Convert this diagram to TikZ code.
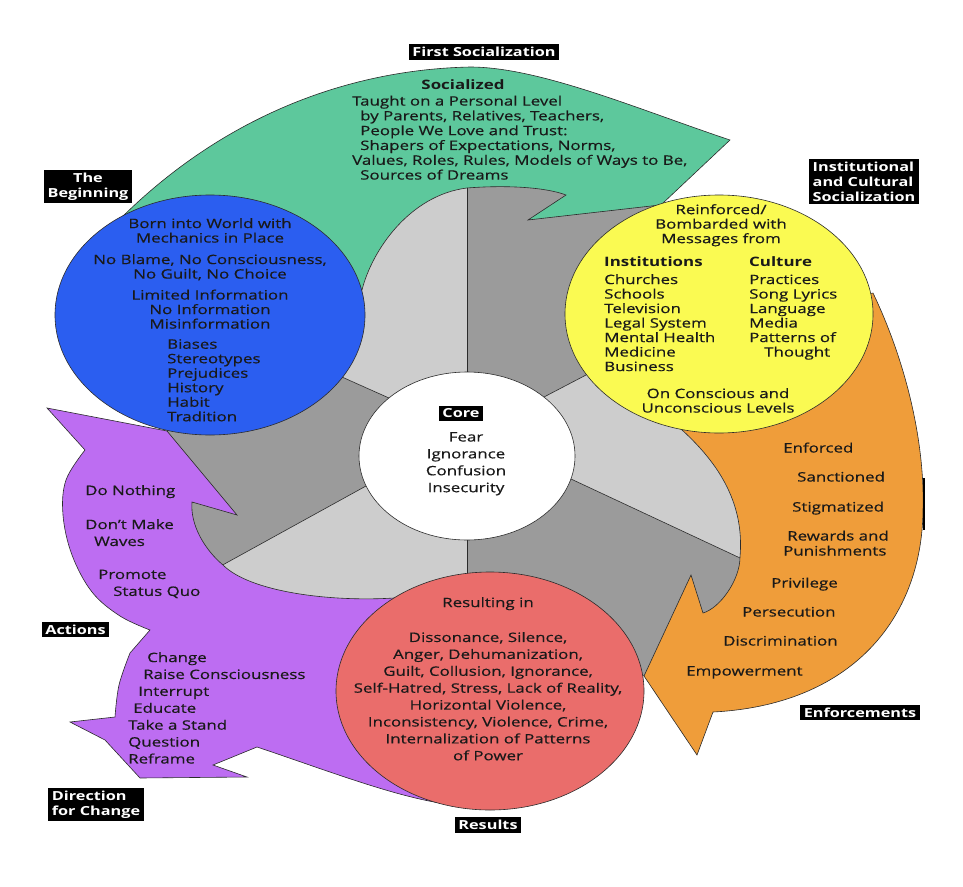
\documentclass[tikz,border=0pt]{standalone}
\usepackage{fontspec}
\setmainfont{Open Sans}[FakeStretch=1.3, UprightFeatures={FakeBold=0.5}]
\usetikzlibrary{shapes.geometric}
\definecolor{leaf}{HTML}{5DC89C}
\definecolor{sea}{HTML}{2B5EF0}
\definecolor{lemon}{HTML}{FAFA52}
\definecolor{amber}{HTML}{EF9D3A}
\definecolor{violet}{HTML}{BD6DF2}
\definecolor{coral}{HTML}{EA6D6B}
\definecolor{greylt}{HTML}{CDCDCD}
\definecolor{greydk}{HTML}{9B9B9B}
\definecolor{rim}{HTML}{2B2B2B}
% outline of the three grey blades round the core
\newcommand{\swirlpath}{(330,330) -- (362,290) .. controls (372,250) and (410,195) .. (467,188)
  .. controls (505,185) and (545,187) .. (566,195) -- (528,220) -- (660,205) -- (681,429)
  .. controls (715,460) and (745,500) .. (740,557) .. controls (740,580) and (720,608) .. (703,613)
  -- (691,575) -- (644,676) -- (394,598) .. controls (330,602) and (250,592) .. (223,565)
  .. controls (205,550) and (190,525) .. (192,502) -- (237,515) -- (167,431) -- cycle}
\tikzset{
  band/.style={draw=rim, line width=0.6pt},
  blob/.style={ellipse, draw=rim, line width=0.6pt, inner sep=0pt},
  tag/.style={fill=black, text=white, inner xsep=3.5pt, inner ysep=3pt, align=center,
    font=\fontsize{12.5pt}{15pt}\selectfont\bfseries},
  words/.style={inner sep=0pt, text=black!90, font=\fontsize{13pt}{14.5pt}\selectfont},
  loose/.style={font=\fontsize{13pt}{16.9pt}\selectfont},
}
\begin{document}
\begin{tikzpicture}[x=1pt, y=-1pt]
  \useasboundingbox (0,0) rectangle (963,886);
  % outer arrows
  \filldraw[band, fill=leaf] (100,240) .. controls (200,130) and (330,70) .. (470,67)
    .. controls (540,67) and (640,110) .. (730,140) -- (662,204) -- (650,260) -- (470,330) -- (300,300) -- cycle;
  \filldraw[band, fill=amber] (873,293) .. controls (905,360) and (925,440) .. (923,510)
    .. controls (922,620) and (850,705) .. (713,712) -- (697,755) -- (644,676) -- (600,560)
    -- (660,410) -- (840,300) -- cycle;
  \draw[line width=2.5pt] (924,478) -- (924,530);
  \filldraw[band, fill=violet] (47,408)
    -- plot[smooth, tension=0.6] coordinates {(85,450) (66,480) (63,515) (72,555) (92,592) (120,616) (150,630)}
    -- plot[smooth, tension=0.6] coordinates {(130,653) (119,685) (115,717)}
    -- (70,722) -- (105,740) -- (140,778) -- (247,777) -- (213,765) -- (257,747)
    .. controls (320,768) and (390,795) .. (440,803) -- (440,700) -- (420,600) -- (330,560)
    -- (250,480) -- (167,431) -- cycle;
  % grey pinwheel
  \begin{scope}
    \clip \swirlpath;
    \fill[greydk] (0,0) rectangle (963,886);
    \fill[greylt] (467,456) -- (467,100) -- (250,100) -- (250,336) -- (389,398) -- cycle;
    \fill[greylt] (467,456) -- (544,397) -- (800,263) -- (800,586) -- (571,479) -- cycle;
    \fill[greylt] (467,456) -- (467,850) -- (150,850) -- (150,605) -- (366,486) -- cycle;
    \draw[band] (467,100) -- (467,850);
    \draw[band] (389,398) -- (250,336);
    \draw[band] (544,397) -- (800,263);
    \draw[band] (571,479) -- (800,586);
    \draw[band] (366,486) -- (150,605);
  \end{scope}
  \draw[band] \swirlpath;
  % circles
  \node[blob, fill=sea, minimum width=310pt, minimum height=240pt] (beginning) at (210,315) {};
  \node[blob, fill=lemon, minimum width=308pt, minimum height=238pt] (institutions) at (719,314) {};
  \node[blob, fill=coral, minimum width=308pt, minimum height=238pt] (results) at (490,691) {};
  \node[blob, fill=white, minimum width=216pt, minimum height=168pt] (core) at (467,456) {};
  % green arrow
  \node[words, font=\fontsize{13pt}{14.5pt}\selectfont\bfseries, anchor=base] (socialized) at (463,89.5) {Socialized};
  \node[words, font=\fontsize{13pt}{14.8pt}\selectfont, anchor=north west, align=left] (taught) at (352,95.5)
    {Taught on a Personal Level\\
     \hspace*{8pt}by Parents, Relatives, Teachers,\\
     \hspace*{8pt}People We Love and Trust:\\
     \hspace*{8pt}Shapers of Expectations, Norms,\\
     Values, Roles, Rules, Models of Ways to Be,\\
     \hspace*{8pt}Sources of Dreams};
  % blue circle
  \node[words, anchor=north, align=center] (bornnote) at (210,218)
    {Born into World with\\Mechanics in Place\\[7pt]No Blame, No Consciousness,\\No Guilt, No Choice\\[6.5pt]Limited Information\\No Information\\Misinformation};
  \node[words, anchor=north west, align=left] (biasnote) at (167,339)
    {Biases\\Stereotypes\\Prejudices\\History\\Habit\\Tradition};
  % yellow circle
  \node[words, anchor=north, align=center] (msgnote) at (721,204) {Reinforced/\\Bombarded with\\Messages from};
  \node[words, anchor=north west, align=left] (instnote) at (604,256)
    {\textbf{Institutions}\\[3.5pt]Churches\\Schools\\Television\\Legal System\\Mental Health\\Medicine\\Business};
  \node[words, anchor=north west, align=left] (culturenote) at (749,256)
    {\textbf{Culture}\\[3.5pt]Practices\\Song Lyrics\\Language\\Media\\Patterns of\\\hspace*{15pt}Thought};
  \node[words, anchor=north, align=center] (levelnote) at (718,388) {On Conscious and\\Unconscious Levels};
  % red circle
  \node[words, loose, anchor=north, align=center] (resultnote) at (488,597)
    {Resulting in\\[18pt]Dissonance, Silence,\\Anger, Dehumanization,\\Guilt, Collusion, Ignorance,\\Self-Hatred, Stress, Lack of Reality,\\Horizontal Violence,\\Inconsistency, Violence, Crime,\\Internalization of Patterns\\of Power};
  % core
  \node[words, loose, anchor=north, align=center] (corenote) at (466,432) {Fear\\Ignorance\\Confusion\\Insecurity};
  % purple arrow
  \node[words, anchor=base west] (nothing) at (85,495) {Do Nothing};
  \node[words, loose, anchor=north west, align=left] (waves) at (85,519) {Don't Make\\\hspace*{9pt}Waves};
  \node[words, loose, anchor=north west, align=left] (quo) at (98,569.5) {Promote\\\hspace*{15pt}Status Quo};
  \node[words, loose, anchor=north west, align=left] (changenote) at (128,652)
    {\hspace*{19pt}Change\\\hspace*{15pt}Raise Consciousness\\\hspace*{10pt}Interrupt\\\hspace*{5pt}Educate\\Take a Stand\\Question\\Reframe};
  % orange arrow
  \foreach \x/\y/\t [count=\i] in {783/452.5/Enforced, 797/481.5/Sanctioned, 792/511.5/Stigmatized,
      787/540.5/Rewards and, 783/555.5/Punishments, 771/587.5/Privilege, 742/616.5/Persecution,
      723/645.5/Discrimination, 686/675.5/Empowerment}
    \node[words, anchor=base west] (enforce\i) at (\x,\y) {\t};
  % black labels
  \node[tag] (firstlab) at (484,52) {First Socialization};
  \node[tag] (beginlab) at (88,186.5) {The\\Beginning};
  \node[tag, align=left] (instlab) at (864,181.5) {Institutional\\and Cultural\\Socialization};
  \node[tag] (corelab) at (461,413.5) {Core};
  \node[tag] (actionlab) at (75.5,629.5) {Actions};
  \node[tag] (enforcelab) at (860,712.5) {Enforcements};
  \node[tag, align=left] (changelab) at (96,804.5) {Direction\\for Change};
  \node[tag] (resultlab) at (488,825) {Results};
\end{tikzpicture}
\end{document}
